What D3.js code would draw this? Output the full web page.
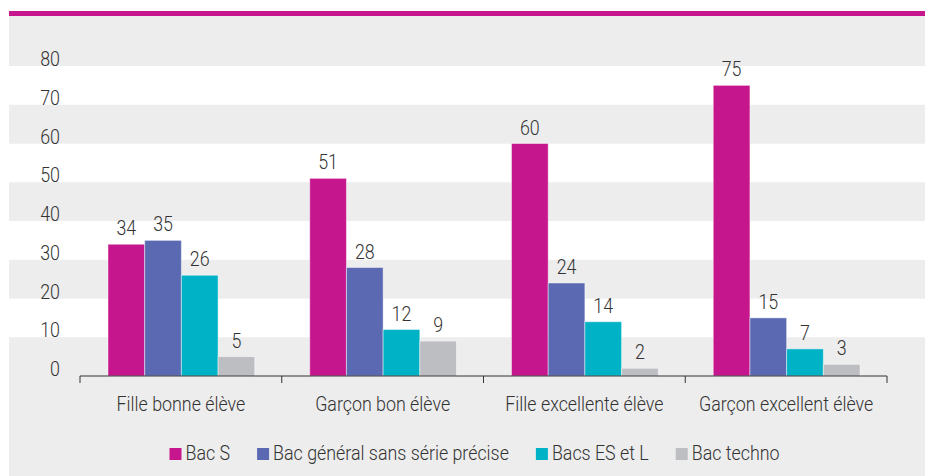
<!DOCTYPE html>
<html>
<head>
<meta charset="utf-8" />
<title>Bac par profil</title>
<style>
body { margin: 0; background: #fff; }
text { font-family: Roboto, "Liberation Sans", Arial, sans-serif; font-weight: 300; fill: #333; font-size: 21px; }
</style>
</head>
<body>
<div id="chart"></div>
<script src="https://d3js.org/d3.v7.min.js"></script>
<script>
var categories = ['Fille bonne élève', 'Garçon bon élève', 'Fille excellente élève', 'Garçon excellent élève'];
var seriesNames = ['Bac S', 'Bac général sans série précise', 'Bacs ES et L', 'Bac techno'];
var seriesColors = ['#c6168d', '#5a69b2', '#00b2c6', '#bdbec2'];
var bacS = [34, 51, 60, 75];
var bacGeneral = [35, 28, 24, 15];
var bacESL = [26, 12, 14, 7];
var bacTechno = [5, 9, 2, 3];
var yTicks = [0, 10, 20, 30, 40, 50, 60, 70, 80];

var series = [bacS, bacGeneral, bacESL, bacTechno];
var width = 925, height = 476;
var narrow = 0.85; // condensed look
var legendGap = 27;

var svg = d3.select('#chart').append('svg')
  .attr('width', width).attr('height', height);

function label(parent, x, yy, str, anchor) {
  return parent.append('text')
    .attr('transform', 'translate(' + x + ',' + yy + ') scale(' + narrow + ',1)')
    .attr('text-anchor', anchor || 'start')
    .text(str);
}

// panel background + top rule
svg.append('rect').attr('x', 9).attr('y', 16).attr('width', width - 9).attr('height', height - 16)
  .attr('fill', '#ededed');
svg.append('rect').attr('x', 9).attr('y', 11).attr('width', width - 9).attr('height', 5)
  .attr('fill', '#c6168d');

var y = d3.scaleLinear().domain([0, 80]).range([376, 66]);
var x0 = d3.scaleBand().domain(categories).range([80, 887]).padding(0);
var x1 = d3.scaleBand().domain(d3.range(series.length))
  .range([28, x0.bandwidth() - 27]).padding(0);

// alternating bands
svg.selectAll('.band').data(yTicks.slice(0, -1)).enter().append('rect')
  .attr('class', 'band')
  .attr('x', 9).attr('width', width - 9)
  .attr('y', function(d) { return y(d + 10); })
  .attr('height', function(d) { return y(d) - y(d + 10); })
  .attr('fill', function(d, i) { return i % 2 === 0 ? '#ededed' : '#ffffff'; });

// y labels
yTicks.forEach(function(d) { label(svg, 60, y(d), d, 'end'); });

// bars
var groups = svg.selectAll('.grp').data(categories).enter().append('g')
  .attr('class', 'grp')
  .attr('transform', function(d) { return 'translate(' + x0(d) + ',0)'; });

groups.each(function(cat, ci) {
  var g = d3.select(this);
  var vals = series.map(function(s, si) { return { si: si, v: s[ci] }; });
  g.selectAll('rect').data(vals).enter().append('rect')
    .attr('x', function(d) { return x1(d.si); })
    .attr('width', x1.bandwidth())
    .attr('y', function(d) { return y(d.v); })
    .attr('height', function(d) { return y(0) - y(d.v); })
    .attr('fill', function(d) { return seriesColors[d.si]; })
    .attr('stroke', 'rgba(255,255,255,0.45)').attr('stroke-width', 1);
  vals.forEach(function(d) {
    label(g, x1(d.si) + x1.bandwidth() / 2, y(d.v) - 9, d.v, 'middle');
  });
});

// x axis
var axisG = svg.append('g').attr('transform', 'translate(0,376)');
axisG.append('line').attr('x1', 80).attr('x2', 887).attr('y1', 0).attr('y2', 0)
  .attr('stroke', '#333').attr('stroke-width', 1);
axisG.selectAll('.tk').data(d3.range(categories.length + 1)).enter().append('line')
  .attr('x1', function(i) { return 80 + i * x0.bandwidth(); })
  .attr('x2', function(i) { return 80 + i * x0.bandwidth(); })
  .attr('y1', 0).attr('y2', 7)
  .attr('stroke', '#333').attr('stroke-width', 1);
categories.forEach(function(d) {
  label(axisG, x0(d) + x0.bandwidth() / 2, 35, d, 'middle');
});

// legend
var legend = svg.append('g').attr('class', 'legend');
var lx = 0;
seriesNames.forEach(function(name, i) {
  var item = legend.append('g').attr('transform', 'translate(' + lx + ',0)');
  item.append('rect').attr('x', 0).attr('y', -12).attr('width', 12).attr('height', 12)
    .attr('fill', seriesColors[i]);
  var t = label(item, 16, 0, name, 'start');
  lx += 16 + t.node().getComputedTextLength() * narrow + legendGap;
});
var totalW = lx - legendGap;
legend.attr('transform', 'translate(' + (474.5 - totalW / 2) + ',460)');
</script>
</body>
</html>
